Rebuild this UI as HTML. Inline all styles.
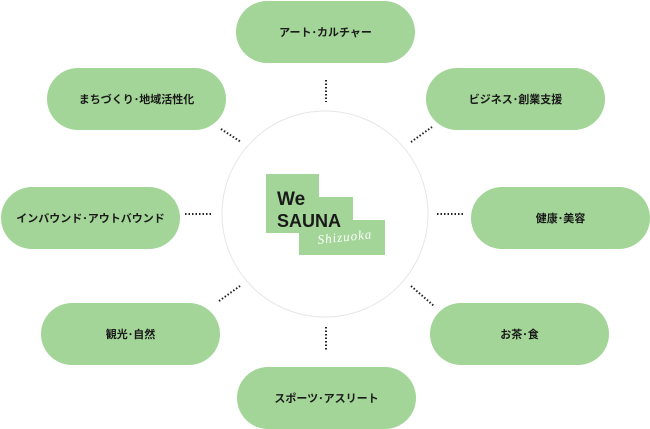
<!DOCTYPE html>
<html><head><meta charset="utf-8"><style>
html,body{margin:0;padding:0;background:#fff;width:650px;height:429px;overflow:hidden}
.p{position:absolute;width:179px;height:62px;border-radius:31px;background:#a2d597;display:flex;align-items:center;justify-content:center;font-family:"Liberation Sans","Noto Sans CJK JP",sans-serif;font-weight:bold;font-size:11px;color:#1a1a1a}
</style></head><body>
<svg width="650" height="429" style="position:absolute;left:0;top:0">
<circle cx="325" cy="214" r="103" fill="none" stroke="#e6e6e6" stroke-width="1"/>
<g stroke="#222" stroke-width="2" stroke-dasharray="1.5 2">
<line x1="326" y1="80" x2="326" y2="102"/>
<line x1="326" y1="327" x2="326" y2="350"/>
<line x1="185" y1="214" x2="213" y2="214"/>
<line x1="437" y1="214" x2="465" y2="214"/>
<line x1="221" y1="129" x2="241" y2="142"/>
<line x1="411" y1="142" x2="432" y2="127"/>
<line x1="219" y1="301" x2="240" y2="286"/>
<line x1="411" y1="286" x2="434" y2="306"/>
</g>
<path d="M266 174H319V197H353V220H385V255H299V233H266Z" fill="#a2d597"/>
<text x="277" y="205" font-family="Liberation Sans,sans-serif" font-weight="bold" font-size="19" fill="#1a1a1a">We</text>
<text x="277" y="227" font-family="Liberation Sans,sans-serif" font-weight="bold" font-size="18" fill="#1a1a1a">SAUNA</text>
<text x="318" y="244" font-family="Liberation Serif,serif" font-style="italic" font-size="13" fill="#fff" transform="rotate(-6 318 244)" letter-spacing="1">Shizuoka</text>
</svg>
<div class="p" style="left:236px;top:1px">アート･カルチャー</div>
<div class="p" style="left:47px;top:68px">まちづくり･地域活性化</div>
<div class="p" style="left:426px;top:68px">ビジネス･創業支援</div>
<div class="p" style="left:1px;top:187px">インバウンド･アウトバウンド</div>
<div class="p" style="left:471px;top:187px">健康･美容</div>
<div class="p" style="left:41px;top:303px">観光･自然</div>
<div class="p" style="left:430px;top:303px">お茶･食</div>
<div class="p" style="left:237px;top:367px">スポーツ･アスリート</div>
</body></html>
